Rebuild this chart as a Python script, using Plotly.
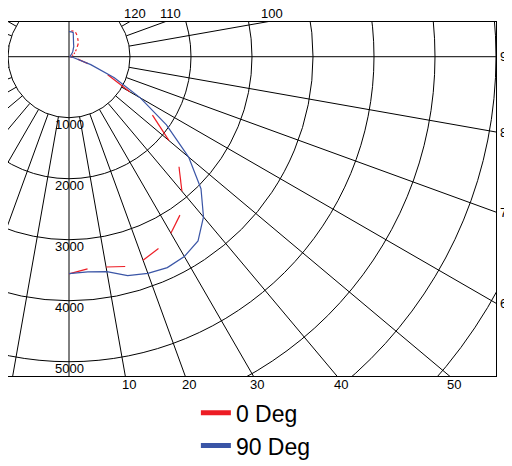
import math
import plotly.graph_objects as go

# ---------------- data ----------------
angles = list(range(0, 181, 5))  # vertical angle, 0 = nadir
cd_0deg = [3560, 3490, 3500, 3560, 3550, 3470, 3340, 3170, 2880, 2550,
           2140, 1670, 1150, 700, 330, 150, 60, 25, 10, 15,
           25, 40, 55, 75, 95, 115, 140, 170, 210, 265,
           300, 335, 380, 415, 425, 425, 420]
cd_90deg = [3557, 3540, 3579, 3714, 3780, 3814, 3782, 3688, 3430, 3060,
            2560, 1950, 1350, 820, 380, 170, 70, 30, 15, 10,
            10, 12, 15, 20, 25, 35, 50, 60, 80, 110,
            145, 185, 220, 280, 400, 410, 410]

circle_radii = [1000, 2000, 3000, 4000, 5000, 6000, 7000, 8000]
radial_labels = [1000, 2000, 3000, 4000, 5000]
spoke_angles = list(range(0, 360, 10))
bottom_labels = [10, 20, 30, 40, 50]
right_labels = [60, 70, 80, 90]
top_labels = [100, 110, 120]

X_RANGE = [-1000, 7000]
Y_RANGE = [-5234, 569]
FONT = "Liberation Sans, Arial, sans-serif"
RED = "#ed1c24"
BLUE = "#3a55a6"


def to_xy(theta, r):
    t = math.radians(theta)
    return r * math.sin(t), -r * math.cos(t)


fig = go.Figure()

# red series: dashed in 5-degree chunks
rx, ry = [], []
for i in range(0, len(angles) - 1, 2):
    for j in (i, i + 1):
        x, y = to_xy(angles[j], cd_0deg[j])
        rx.append(x)
        ry.append(y)
    rx.append(None)
    ry.append(None)
fig.add_trace(go.Scatter(x=rx, y=ry, mode="lines", line=dict(color=RED, width=1.2),
                         showlegend=False, hoverinfo="skip"))

bx, by = zip(*[to_xy(a, r) for a, r in zip(angles, cd_90deg)])
fig.add_trace(go.Scatter(x=list(bx), y=list(by), mode="lines",
                         line=dict(color=BLUE, width=1.2),
                         showlegend=False, hoverinfo="skip"))

# legend entries
fig.add_trace(go.Scatter(x=[None], y=[None], mode="lines", name="0 Deg",
                         line=dict(color=RED, width=5)))
fig.add_trace(go.Scatter(x=[None], y=[None], mode="lines", name="90 Deg",
                         line=dict(color=BLUE, width=5)))

shapes = []
for r in circle_radii:
    shapes.append(dict(type="circle", xref="x", yref="y", x0=-r, x1=r, y0=-r, y1=r,
                       line=dict(color="black", width=1), layer="below"))
for a in spoke_angles:
    if a % 90 == 0:
        x1, y1 = to_xy(a, 20000)
        shapes.append(dict(type="line", xref="x", yref="y", x0=0, y0=0, x1=x1, y1=y1,
                           line=dict(color="black", width=1), layer="below"))
    else:
        x0, y0 = to_xy(a, circle_radii[0])
        x1, y1 = to_xy(a, 20000)
        shapes.append(dict(type="line", xref="x", yref="y", x0=x0, y0=y0, x1=x1, y1=y1,
                           line=dict(color="black", width=1), layer="below"))

ann = []
font = dict(family=FONT, size=13, color="black")
for r in radial_labels:
    ann.append(dict(x=0, y=-r, xref="x", yref="y", text=str(r), showarrow=False,
                    yanchor="middle", xanchor="center", yshift=-7, font=font))
ybot = Y_RANGE[0]
for a in bottom_labels:
    t = ybot / (-math.cos(math.radians(a)))
    x = t * math.sin(math.radians(a))
    ann.append(dict(x=x, y=ybot, xref="x", yref="y", text=str(a), showarrow=False,
                    yanchor="top", xanchor="center", xshift=4, yshift=1, font=font))
xr = X_RANGE[1]
for a in right_labels:
    t = xr / math.sin(math.radians(a))
    y = -t * math.cos(math.radians(a))
    ann.append(dict(x=xr, y=y, xref="x", yref="y", text=str(a), showarrow=False,
                    yanchor="middle", xanchor="left", xshift=2, font=font))
ytop = Y_RANGE[1]
for a in top_labels:
    t = ytop / (-math.cos(math.radians(a)))
    x = t * math.sin(math.radians(a))
    ann.append(dict(x=x, y=ytop, xref="x", yref="y", text=str(a), showarrow=False,
                    yanchor="bottom", xanchor="center", xshift=6, yshift=-1, font=font))

axis_common = dict(showgrid=False, zeroline=False, showticklabels=False, ticks="",
                   showline=True, linecolor="black", linewidth=1, mirror=True)
fig.update_layout(
    width=512, height=466,
    margin=dict(l=0, r=24, t=14, b=98, autoexpand=False),
    paper_bgcolor="white", plot_bgcolor="white",
    xaxis=dict(range=X_RANGE, **axis_common),
    yaxis=dict(range=Y_RANGE, **axis_common),
    shapes=shapes, annotations=ann,
    showlegend=True,
    legend=dict(x=0.385, y=-0.043, xanchor="left", yanchor="top",
                font=dict(family=FONT, size=23, color="black"),
                bgcolor="rgba(0,0,0,0)", tracegroupgap=0),
    font=dict(family=FONT),
    hovermode=False,
)

fig.write_html("out.html", config=dict(displayModeBar=False))
